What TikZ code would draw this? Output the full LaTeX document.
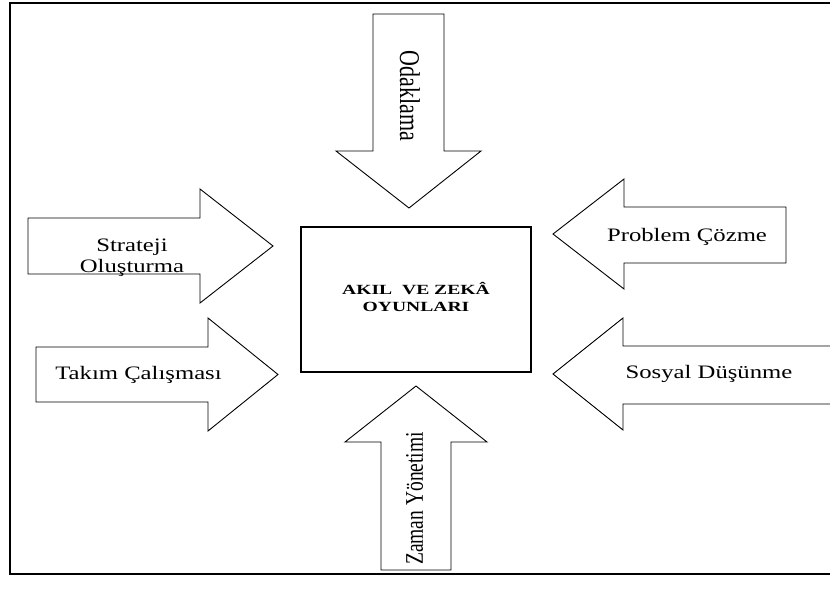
\documentclass[tikz,border=0pt]{standalone}
\usepackage{fontspec}
\setmainfont{Liberation Serif}
\usepackage{tikz}
\usetikzlibrary{positioning, calc}

\begin{document}
\begin{tikzpicture}[x=1pt,y=-1pt,
    frame/.style={draw,line width=1.3pt},
    block/.style={draw,line width=0.9pt,line join=miter},
    center box/.style={draw,line width=1.2pt,minimum width=230pt,minimum height=145pt,inner sep=0pt},
    lbl/.style={inner sep=0pt,align=center,xscale=1.3,font=\fontsize{19}{21}\selectfont},
    vlbl/.style={inner sep=0pt,yscale=1.3},
    title/.style={inner sep=0pt,align=center,xscale=1.4,font=\fontsize{14}{17}\selectfont\bfseries}]
    \clip (0,0) rectangle (830,589);
    \draw[frame] (10,3) rectangle (850,574);

    \node[center box] (oyun) at (416,299.5) {};
    \node[title] (baslik) at (416,297) {AKIL\ \ VE ZEKÂ\\OYUNLARI};

    \draw[block] (373,14) -- (444,14) -- (444,151) -- (481,151) -- (409,208)
        -- (336,151) -- (373,151) -- cycle;
    \draw[block] (28,218) -- (200,218) -- (200,189) -- (273,246) -- (200,303)
        -- (200,274) -- (28,274) -- cycle;
    \draw[block] (36,347) -- (208,347) -- (208,318) -- (278,374.5) -- (208,431)
        -- (208,402) -- (36,402) -- cycle;
    \draw[block] (786,207) -- (624,207) -- (624,179) -- (553,234) -- (624,289)
        -- (624,263) -- (786,263) -- cycle;
    \draw[block] (850,346) -- (623,346) -- (623,318) -- (553,374) -- (623,430)
        -- (623,404) -- (850,404) -- cycle;
    \draw[block] (381,570) -- (381,442) -- (345,442) -- (416,386) -- (487,442)
        -- (451,442) -- (451,570) -- cycle;

    \node[rotate=-90,vlbl,font=\fontsize{22}{24}\selectfont] (odak) at (410,96) {Odaklama};
    \node[rotate=90,vlbl,font=\fontsize{19.5}{22}\selectfont] (zaman) at (414.5,498.5) {Zaman Yönetimi};
    \node[lbl] (strateji) at (132,257.5) {Strateji\\Oluşturma};
    \node[lbl] (takim) at (138.5,375) {Takım Çalışması};
    \node[lbl] (problem) at (687,236.5) {Problem Çözme};
    \node[lbl] (sosyal) at (709,373.5) {Sosyal Düşünme};
\end{tikzpicture}
\end{document}
